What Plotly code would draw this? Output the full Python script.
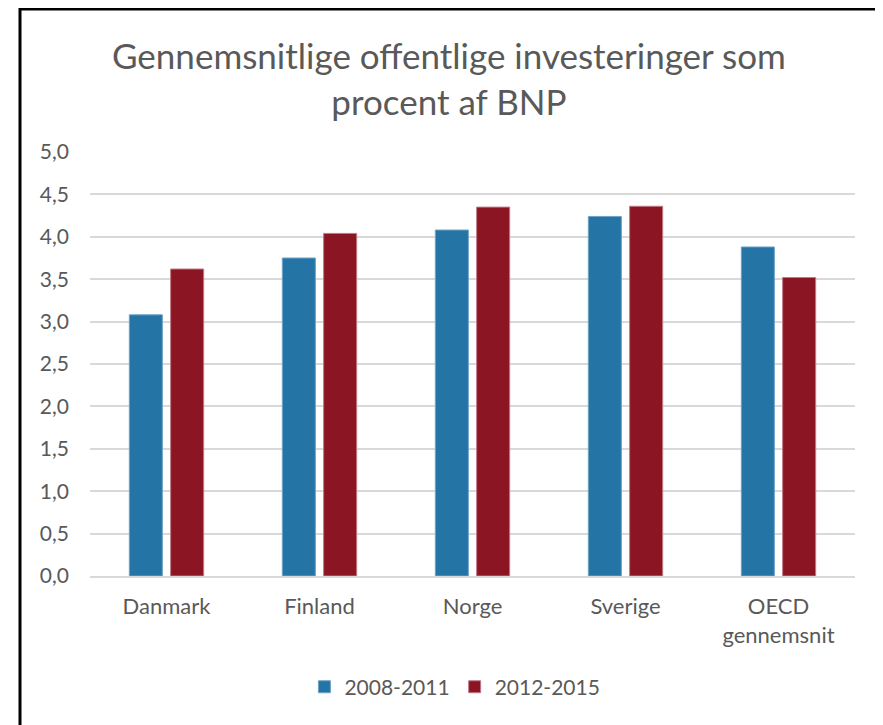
import plotly.graph_objects as go

# Data
countries = ["Danmark", "Finland", "Norge", "Sverige", "OECD<br>gennemsnit"]
period_a = "2008-2011"
period_b = "2012-2015"
values_a = [3.08, 3.75, 4.08, 4.24, 3.88]
values_b = [3.62, 4.04, 4.35, 4.36, 3.52]

blue = "#2475A5"
red = "#8C1524"
grey_text = "#595959"

fig = go.Figure()
fig.add_trace(go.Bar(x=countries, y=values_a, name=period_a,
                     marker=dict(color=blue, line=dict(color="#6FA3C6", width=1))))
fig.add_trace(go.Bar(x=countries, y=values_b, name=period_b,
                     marker=dict(color=red, line=dict(color="#C07A83", width=1))))

fig.update_layout(
    width=883, height=725,
    margin=dict(l=82, r=36, t=144, b=157),
    paper_bgcolor="white", plot_bgcolor="white",
    font=dict(family="Lato", color=grey_text, size=21),
    separators=",.",
    barmode="group", bargap=0.46, bargroupgap=0.2,
    legend=dict(orientation="h", x=0.477, xanchor="center", y=-0.262, yanchor="middle",
                font=dict(size=21), itemwidth=30, traceorder="normal"),
    annotations=[dict(text="Gennemsnitlige offentlige investeringer som<br>procent af BNP",
                      xref="paper", yref="paper", x=0.469, y=1.175,
                      xanchor="center", yanchor="middle", showarrow=False,
                      font=dict(size=35, color=grey_text))],
    shapes=[dict(type="path", xref="paper", yref="paper",
                 path="M -0.0915,-0.5 L -0.0915,1.337 L 1.1,1.337",
                 line=dict(color="black", width=3))],
)
fig.update_yaxes(range=[0, 5], dtick=0.5, tickformat=".1f",
                 showgrid=True, gridcolor="#D9D9D9", gridwidth=1.5,
                 zeroline=False, showline=False, ticklabelstandoff=20)
fig.update_xaxes(showline=True, linecolor="#D9D9D9", linewidth=2,
                 ticks="", ticklabelstandoff=10, tickfont=dict(size=22))

fig.write_html("out.html")
